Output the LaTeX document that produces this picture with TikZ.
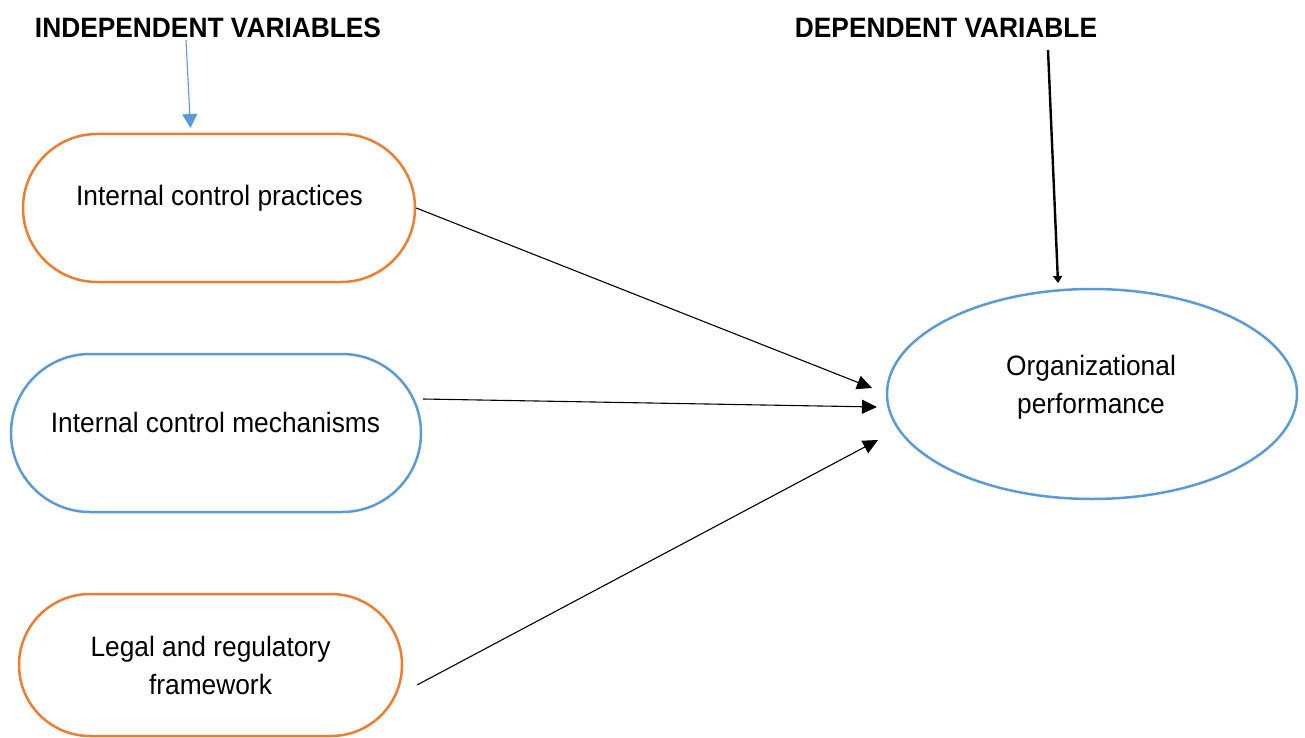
\documentclass[tikz,border=0pt]{standalone}
\usepackage{fontspec}
\setmainfont{Liberation Sans}[FakeStretch=0.94]
\usepackage{xcolor}
\usepackage{tikz}
\usetikzlibrary{arrows.meta,shapes.misc,shapes.geometric,positioning}

\definecolor{varorange}{HTML}{ED7D31}
\definecolor{varblue}{HTML}{5B9BD5}

\begin{document}
\begin{tikzpicture}[x=1pt,y=-1pt,
    varbox/.style={draw,line width=2.5pt,rounded rectangle,inner sep=0pt},
    txt/.style={font=\fontsize{28}{38}\selectfont,align=center,inner sep=0pt},
    head/.style={font=\fontsize{28}{30}\selectfont\bfseries,inner sep=0pt},
    link/.style={-{Triangle[length=15pt,width=14pt]},line width=1.1pt}]
    \useasboundingbox (0,0) rectangle (1305,738);

    \node[head] (indep) at (208,28) {INDEPENDENT VARIABLES};
    \node[head] (dep) at (946,28) {DEPENDENT VARIABLE};

    % independent variables
    \node[varbox,varorange,minimum width=392pt,minimum height=148pt] (icp) at (219,208) {};
    \node[txt,anchor=base] (icpt) at (219.5,205) {Internal control practices};

    \node[varbox,varblue,minimum width=410pt,minimum height=158pt] (icm) at (216,433) {};
    \node[txt,anchor=base] (icmt) at (215.5,432) {Internal control mechanisms};

    \node[varbox,varorange,minimum width=383pt,minimum height=142pt] (lrf) at (210.5,665) {};
    \node[txt] (lrft) at (210.5,665) {Legal and regulatory\\framework};

    % dependent variable
    \node[draw,varblue,line width=2.5pt,ellipse,inner sep=0pt,minimum width=410pt,minimum height=210pt] (op) at (1092,394) {};
    \node[txt] (opt) at (1091,387) {Organizational\\performance};

    \coordinate (t1) at (872,388);
    \coordinate (s2) at (423,399);
    \coordinate (t2) at (877,407);
    \coordinate (s3) at (417,685);
    \coordinate (t3) at (878,440);
    \draw[link] (icp.east) -- (t1);
    \draw[link] (s2) -- (t2);
    \draw[link] (s3) -- (t3);

    \coordinate (a1) at (186,40);
    \coordinate (a2) at (190.5,128);
    \draw[varblue,line width=1.1pt,-{Triangle[length=14pt,width=15pt]}] (a1) -- (a2);
    \coordinate (b1) at (1048,50);
    \coordinate (b2) at (1058,283);
    \draw[line width=2.4pt,-{Triangle[length=7pt,width=9pt]}] (b1) -- (b2);
\end{tikzpicture}
\end{document}
